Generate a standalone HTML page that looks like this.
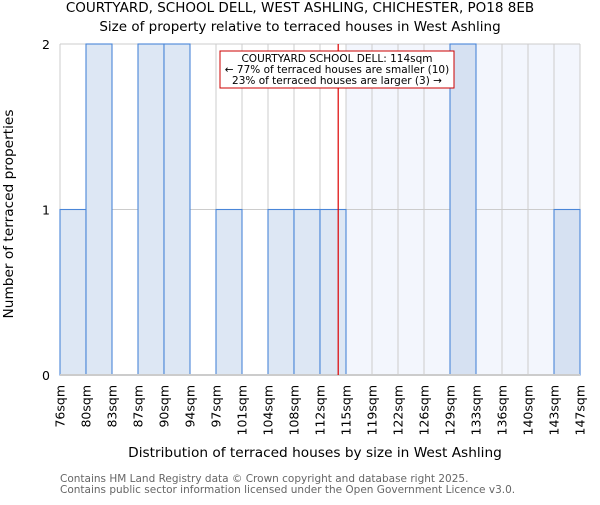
<!DOCTYPE html>
<html><head><meta charset="utf-8"><style>
body{margin:0;background:#fff;}
svg text{font-family:"DejaVu Sans","Liberation Sans",sans-serif;}
</style></head><body>
<svg width="600" height="500" id="c">
<text x="300" y="12" text-anchor="middle" font-size="13.5">COURTYARD, SCHOOL DELL, WEST ASHLING, CHICHESTER, PO18 8EB</text>
<text x="300" y="31" text-anchor="middle" font-size="13.5">Size of property relative to terraced houses in West Ashling</text>
<g id="plot"></g>
<text x="315" y="457" text-anchor="middle" font-size="13.7">Distribution of terraced houses by size in West Ashling</text>
<text transform="translate(13,214) rotate(-90)" text-anchor="middle" font-size="13.7">Number of terraced properties</text>
<text x="60" y="482" font-size="10.5" fill="#666">Contains HM Land Registry data © Crown copyright and database right 2025.</text>
<text x="60" y="493" font-size="10.5" fill="#666">Contains public sector information licensed under the Open Government Licence v3.0.</text>
</svg>
<script>
const labels=["76sqm","80sqm","83sqm","87sqm","90sqm","94sqm","97sqm","101sqm","104sqm","108sqm","112sqm","115sqm","119sqm","122sqm","126sqm","129sqm","133sqm","136sqm","140sqm","143sqm","147sqm"];
const counts=[1,2,0,2,2,0,1,0,1,1,1,0,0,0,0,2,0,0,0,1];
const yTicks=[0,1,2];
const markerBin=10.7;
const NS="http://www.w3.org/2000/svg";
const g=document.getElementById('plot');
const L=60,R=580,T=44,B=375,n=counts.length,bw=(R-L)/n;
const x=i=>L+i*bw, y=v=>B-(B-T)*v/2;
function el(t,a,p){const e=document.createElementNS(NS,t);for(const k in a)e.setAttribute(k,a[k]);(p||g).appendChild(e);return e;}
const hx=x(Math.ceil(markerBin));
let e=el('rect',{x:hx,y:T,width:R-hx,height:B-T,fill:'#f3f6fd'});


for(let i=0;i<=n;i++){e=el('line',{x1:x(i),x2:x(i),y1:T,y2:B,stroke:'#ccc'});

}
yTicks.forEach(v=>{e=el('line',{x1:L,x2:R,y1:y(v),y2:y(v),stroke:'#ccc'});


e=el('text',{x:L-10,y:y(v)+5,'text-anchor':'end','font-size':12.5});e.textContent=v;

});
counts.forEach((c,i)=>{if(!c)return;
e=el('rect',{x:x(i),y:y(c),width:bw,height:B-y(c),fill:i>=Math.ceil(markerBin)?'#d6e1f2':'#dde7f4',stroke:'#4a86d8','stroke-width':1.1});

});
e=el('line',{x1:L,x2:R,y1:B,y2:B,stroke:'#ccc','stroke-width':2});


labels.forEach((l,i)=>{e=el('text',{transform:`translate(${x(i)+4.5},385) rotate(-90)`,'text-anchor':'end','font-size':12.5});e.textContent=l;

});
const mx=x(markerBin);
e=el('line',{x1:mx,x2:mx,y1:T,y2:B,stroke:'#d00','stroke-width':1.2});


e=el('rect',{x:220,y:51,width:234,height:37,fill:'#fff',stroke:'#c00'});


["COURTYARD SCHOOL DELL: 114sqm","← 77% of terraced houses are smaller (10)","23% of terraced houses are larger (3) →"].forEach((t,i)=>{
e=el('text',{x:337,y:62+i*11,'text-anchor':'middle','font-size':10.5});e.textContent=t;

});
</script>
</body></html>
